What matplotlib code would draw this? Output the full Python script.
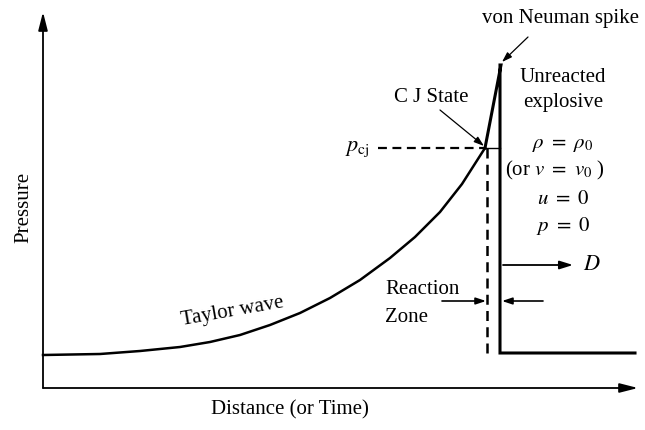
import matplotlib
matplotlib.use("Agg")
import matplotlib.pyplot as plt

plt.rcParams['font.family'] = ['Liberation Serif', 'DejaVu Serif']
plt.rcParams['mathtext.fontset'] = 'stix'

# Taylor wave: distance vs pressure (schematic units, origin at axes corner)
taylor_x = [0, 57, 97, 137, 167, 197, 227, 257, 287, 317, 347, 372, 397, 419, 442]
taylor_p = [33, 34, 37, 41, 46, 53, 63, 75, 90, 108, 130, 151, 176, 204, 240]
# von Neumann spike and shock front
spike_x = [442, 458, 457, 457, 592]
spike_p = [240, 323, 323, 35, 35]
cj_x, cj_p = 442, 240
x_end, p_end = 595, 376

fig = plt.figure(figsize=(6.45, 4.3), dpi=100)
ax = fig.add_axes([0, 0, 1, 1])
ax.set_xlim(-43, 602)
ax.set_ylim(-42, 388)
ax.axis('off')

fs = 15
black = 'black'

# axes arrows
ax.annotate('', xy=(x_end, 0), xytext=(0, 0),
            arrowprops=dict(arrowstyle='-|>,head_length=1.1,head_width=0.28', lw=1.3, color=black,
                            shrinkA=0, shrinkB=0))
ax.annotate('', xy=(0, p_end), xytext=(0, 0),
            arrowprops=dict(arrowstyle='-|>,head_length=1.1,head_width=0.28', lw=1.3, color=black,
                            shrinkA=0, shrinkB=0))

# pressure profile
ax.plot(taylor_x, taylor_p, color=black, lw=1.8, solid_joinstyle='round')
ax.plot(spike_x, spike_p, color=black, lw=2.2, solid_joinstyle='miter')

# CJ dashed lines
ax.plot([335, cj_x], [cj_p, cj_p], color=black, lw=1.6, ls=(0, (4, 2.5)))
ax.plot([cj_x, 457], [cj_p, cj_p], color=black, lw=1.0)
ax.plot([cj_x + 2, cj_x + 2], [cj_p, 35], color=black, lw=1.8, ls=(0, (4, 2.5)))

# labels
ax.text(-19, 181, 'Pressure', rotation=90, ha='center', va='center', fontsize=fs)
ax.text(247, -22, 'Distance (or Time)', ha='center', va='center', fontsize=fs)
ax.text(189, 76, 'Taylor wave', rotation=10, ha='center', va='center', fontsize=fs)
ax.text(388, 290, 'C J State', ha='center', va='center', fontsize=fs)
ax.annotate('', xy=(cj_x - 1, cj_p + 2), xytext=(397, 278),
            arrowprops=dict(arrowstyle='-|>,head_length=0.6,head_width=0.2', lw=0.9, color=black,
                            shrinkA=0, shrinkB=0))
ax.text(314, 239, r'$p_{\mathrm{cj}}$', ha='center', va='center', fontsize=fs + 1)

ax.text(517, 370, 'von Neuman spike', ha='center', va='center', fontsize=fs)
ax.annotate('', xy=(459, 326), xytext=(485, 351),
            arrowprops=dict(arrowstyle='-|>,head_length=0.6,head_width=0.2', lw=0.9, color=black,
                            shrinkA=0, shrinkB=0))

ax.text(520, 310, 'Unreacted', ha='center', va='center', fontsize=fs)
ax.text(520, 285, 'explosive', ha='center', va='center', fontsize=fs)
ax.text(520, 244, r'$\rho\ =\ \rho_0$', ha='center', va='center', fontsize=fs)
ax.text(512, 218, r'(or $v\ =\ v_0$ )', ha='center', va='center', fontsize=fs)
ax.text(520, 189, r'$u\ =\ 0$', ha='center', va='center', fontsize=fs)
ax.text(520, 162, r'$p\ =\ 0$', ha='center', va='center', fontsize=fs)

ax.annotate('', xy=(530, 123), xytext=(460, 123),
            arrowprops=dict(arrowstyle='-|>,head_length=0.8,head_width=0.25', lw=1.3, color=black,
                            shrinkA=0, shrinkB=0))
ax.text(540, 123, r'$D$', ha='left', va='center', fontsize=fs + 1)

ax.text(342, 98, 'Reaction', ha='left', va='center', fontsize=fs)
ax.text(342, 70, 'Zone', ha='left', va='center', fontsize=fs)
ax.annotate('', xy=(cj_x + 1, 87), xytext=(399, 87),
            arrowprops=dict(arrowstyle='-|>,head_length=0.6,head_width=0.2', lw=1.2, color=black,
                            shrinkA=0, shrinkB=0))
ax.annotate('', xy=(459, 87), xytext=(500, 87),
            arrowprops=dict(arrowstyle='-|>,head_length=0.6,head_width=0.2', lw=1.2, color=black,
                            shrinkA=0, shrinkB=0))

fig.savefig('out.png', dpi=100)
